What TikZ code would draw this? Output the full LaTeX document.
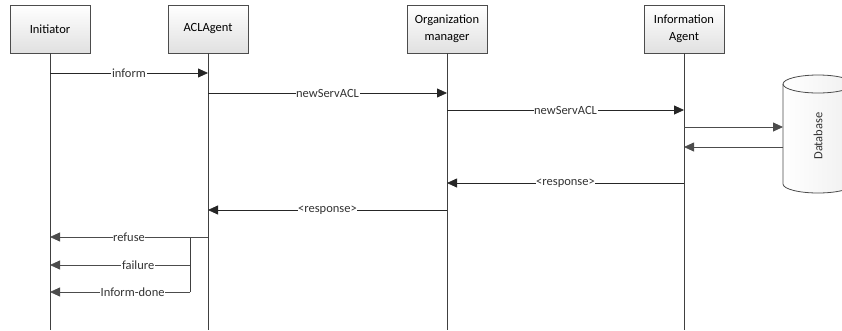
\documentclass[tikz,border=0pt]{standalone}
\usepackage{fontspec}
\setmainfont{Carlito}
\usetikzlibrary{arrows.meta}

\begin{document}
\begin{tikzpicture}[x=1pt,y=-1pt,
  main node/.style={draw=black!70,top color=white,bottom color=black!12,minimum width=80pt,minimum height=48pt,align=center,inner sep=2pt,font=\fontsize{12.5}{17}\selectfont},
  life/.style={draw=black!75,line width=0.8pt},
  msg/.style={-{Triangle[length=10pt,width=9pt]},draw=black!85,line width=0.8pt},
  lbl/.style={fill=white,inner sep=0.6pt,text=black!80,font=\fontsize{12.5}{13}\selectfont}]
  \useasboundingbox (0,0) rectangle (842,330);

  \node[main node] (ini) at (50,29) {Initiator};
  \node[main node] (acl) at (208,29) {ACLAgent};
  \node[main node] (org) at (447,29) {Organization\\manager};
  \node[main node] (inf) at (684,29) {Information\\Agent};

  % database cylinder
  \draw[draw=black!70,left color=white,right color=black!6,line width=0.8pt]
    (783,84) -- (783,184) arc[start angle=180,end angle=0,x radius=35,y radius=9]
    -- (853,84) arc[start angle=0,end angle=-180,x radius=35,y radius=9] -- cycle;
  \draw[draw=black!70,line width=0.8pt]
    (783,84) arc[start angle=180,end angle=0,x radius=35,y radius=9];
  \node[rotate=90,text=black!80,font=\fontsize{12.5}{13}\selectfont] (db) at (818,136) {Database};

  \coordinate (ini end) at (50,330);
  \coordinate (acl end) at (208,330);
  \coordinate (org end) at (447,330);
  \coordinate (inf end) at (684,330);

  \coordinate (i1) at (50,73);   \coordinate (a1) at (208,73);
  \coordinate (a2) at (208,93);  \coordinate (o2) at (447,93);
  \coordinate (o3) at (447,110); \coordinate (f3) at (684,110);
  \coordinate (f4) at (684,127); \coordinate (d4) at (783,127);
  \coordinate (d5) at (783,147); \coordinate (f5) at (684,147);
  \coordinate (f6) at (684,183); \coordinate (o6) at (447,183);
  \coordinate (o7) at (447,210); \coordinate (a7) at (208,210);
  \coordinate (a8) at (208,237); \coordinate (i8) at (50,237);
  \coordinate (b8) at (190,237);
  \coordinate (b9) at (190,265); \coordinate (i9) at (50,265);
  \coordinate (b10) at (190,292); \coordinate (i10) at (50,292);

 \path[]
 (ini) edge [life] (ini end)
 (acl) edge [life] (acl end)
 (org) edge [life] (org end)
 (inf) edge [life] (inf end)
 (b8) edge [life] (b10);
 \path[]
 (i1) edge [msg] node [lbl] {inform} (a1)
 (a2) edge [msg] node [lbl] {newServACL} (o2)
 (o3) edge [msg] node [lbl] {newServACL} (f3)
 (f4) edge [msg,draw=black!70] (d4)
 (d5) edge [msg,draw=black!70] (f5)
 (f6) edge [msg] node [lbl] {<response>} (o6)
 (o7) edge [msg] node [lbl] {<response>} (a7)
 (a8) edge [msg,draw=black!70] node [lbl] {refuse} (i8)
 (b9) edge [msg,draw=black!70] node [lbl,pos=0.37] {failure} (i9)
 (b10) edge [msg,draw=black!70] node [lbl,pos=0.41] {Inform-done} (i10);

\end{tikzpicture}
\end{document}
